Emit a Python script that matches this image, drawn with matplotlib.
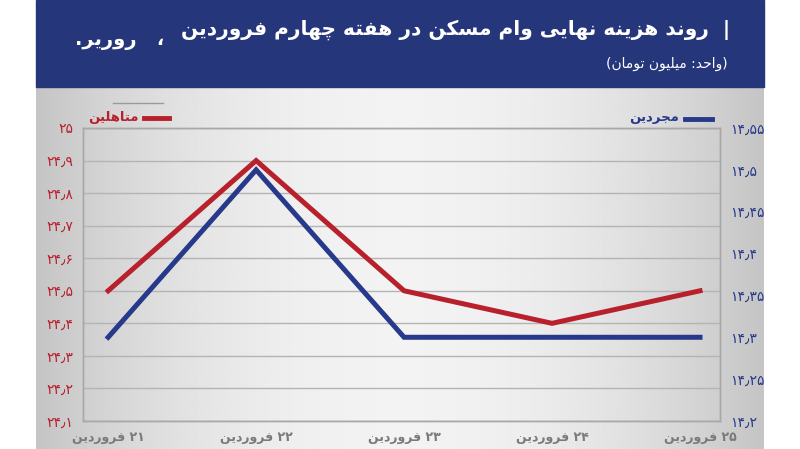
import matplotlib
matplotlib.use("Agg")
import matplotlib.pyplot as plt
import numpy as np
from matplotlib.patches import Rectangle
from matplotlib.ticker import FuncFormatter, MultipleLocator

#%% data
days = ["۲۱", "۲۲", "۲۳", "۲۴", "۲۵"]
month = "فروردین"
married = [24.5, 24.9, 24.5, 24.4, 24.5]   # متاهلین (left axis)
single = [14.3, 14.5, 14.3, 14.3, 14.3]    # مجردین (right axis)

title_txt = "روند هزینه نهایی وام مسکن در هفته چهارم فروردین"
unit_txt = "واحد: میلیون تومان"
married_lbl = "متاهلین"
single_lbl = "مجردین"
logo_txt = "روریر"

RED = "#b8202b"
BLUE = "#27398a"
NAVY = "#26367b"

#%% simple persian shaping (matplotlib has no bidi / joining)
FORMS = {  # isolated, final, initial, medial
    "ا": ("\uFE8D", "\uFE8E", None, None),
    "د": ("\uFEA9", "\uFEAA", None, None),
    "ر": ("\uFEAD", "\uFEAE", None, None),
    "ز": ("\uFEAF", "\uFEB0", None, None),
    "و": ("\uFEED", "\uFEEE", None, None),
    "ت": ("\uFE95", "\uFE96", "\uFE97", "\uFE98"),
    "ج": ("\uFE9D", "\uFE9E", "\uFE9F", "\uFEA0"),
    "ح": ("\uFEA1", "\uFEA2", "\uFEA3", "\uFEA4"),
    "چ": ("\uFB7A", "\uFB7B", "\uFB7C", "\uFB7D"),
    "س": ("\uFEB1", "\uFEB2", "\uFEB3", "\uFEB4"),
    "ف": ("\uFED1", "\uFED2", "\uFED3", "\uFED4"),
    "ک": ("\uFB8E", "\uFB8F", "\uFB90", "\uFB91"),
    "ل": ("\uFEDD", "\uFEDE", "\uFEDF", "\uFEE0"),
    "م": ("\uFEE1", "\uFEE2", "\uFEE3", "\uFEE4"),
    "ن": ("\uFEE5", "\uFEE6", "\uFEE7", "\uFEE8"),
    "ه": ("\uFEE9", "\uFEEA", "\uFEEB", "\uFEEC"),
    "ی": ("\uFBFC", "\uFBFD", "\uFBFE", "\uFBFF"),
}


def dual(c):
    return c in FORMS and FORMS[c][2] is not None


def fa(s):
    out = []
    for i, c in enumerate(s):
        if c not in FORMS:
            out.append(c)
            continue
        prev = s[i - 1] if i > 0 else ""
        nxt = s[i + 1] if i + 1 < len(s) else ""
        jp = dual(prev)
        jn = dual(c) and nxt in FORMS
        f = FORMS[c]
        if jp and jn:
            out.append(f[3])
        elif jp:
            out.append(f[1])
        elif jn:
            out.append(f[2])
        else:
            out.append(f[0])
    return "".join(out)[::-1]


FA_DIGITS = str.maketrans("0123456789.", "۰۱۲۳۴۵۶۷۸۹٫")


def fa_num(v, pos=None):
    return ("%g" % round(v, 3)).translate(FA_DIGITS)


plt.rcParams["font.family"] = ["DejaVu Sans"]

fig = plt.figure(figsize=(8, 4.49), dpi=100)
W, H = 800, 449


def fx(px):
    return px / W


def fy(py):
    return 1 - py / H


#%% background panels
bg = fig.add_axes([fx(36), 0, fx(728), fy(88)])
grad = np.linspace(-1, 1, 400)
shade = 0.95 - 0.18 * grad ** 2
bg.imshow(np.tile(shade, (10, 1)), cmap="gray", vmin=0, vmax=1,
          aspect="auto", extent=[0, 1, 0, 1])
bg.axis("off")

fig.patches.append(Rectangle((fx(36), fy(87)), fx(728), 87 / H,
                             transform=fig.transFigure, color=NAVY, zorder=0))

fig.text(fx(730), fy(30), fa(title_txt) + "  |", color="white", fontsize=14.5,
         fontweight="bold", ha="right", va="center")
fig.text(fx(728), fy(64), "(" + fa(unit_txt) + ")", color="white", fontsize=10,
         ha="right", va="center")
fig.text(fx(75), fy(40), "." + fa(logo_txt) + "   ،", color="white", fontsize=14,
         fontweight="bold", ha="left", va="center")

#%% chart
ax = fig.add_axes([fx(83), fy(421), fx(637), (421 - 128) / H])
ax.patch.set_alpha(0)
x = np.arange(len(days))
ax.plot(x, married, color=RED, lw=3.6, solid_joinstyle="miter", zorder=3)
ax.set_xlim(-0.17, 4.135)
ax.set_ylim(24.1, 25.0)
ax.yaxis.set_major_locator(MultipleLocator(0.1))
ax.yaxis.set_major_formatter(FuncFormatter(fa_num))
ax.grid(axis="y", color="#b4b4b4", lw=1)
ax.set_xticks(x)
ax.set_xticklabels([fa(month) + " " + d for d in days], color="#7a7a7a",
                   fontsize=9, fontweight="bold")
ax.tick_params(axis="y", colors=RED, labelsize=10, length=0, pad=7)
ax.tick_params(axis="x", length=0, pad=7)
for s in ax.spines.values():
    s.set_color("#a8a8a8")
    s.set_linewidth(1)

ax2 = ax.twinx()
ax2.plot(x, single, color=BLUE, lw=3.6, solid_joinstyle="miter", zorder=3)
ax2.set_ylim(14.2, 14.55)
ax2.yaxis.set_major_locator(MultipleLocator(0.05))
ax2.yaxis.set_major_formatter(FuncFormatter(fa_num))
ax2.tick_params(axis="y", colors=BLUE, labelsize=10, length=0, pad=7)
for s in ax2.spines.values():
    s.set_color("#a8a8a8")
    s.set_linewidth(1)

#%% legend marks
fig.add_artist(plt.Line2D([fx(144), fx(169)], [fy(118), fy(118)], color=RED, lw=3.5))
fig.text(fx(139), fy(117), fa(married_lbl), color=RED, fontsize=9.5,
         fontweight="bold", ha="right", va="center")
fig.add_artist(plt.Line2D([fx(685), fx(712)], [fy(119), fy(119)], color=BLUE, lw=3.5))
fig.text(fx(679), fy(118), fa(single_lbl), color=BLUE, fontsize=9.5,
         fontweight="bold", ha="right", va="center")
fig.add_artist(plt.Line2D([fx(113), fx(163)], [fy(103), fy(103)], color="#9a9a9a", lw=1))

fig.savefig("out.png", dpi=100)
